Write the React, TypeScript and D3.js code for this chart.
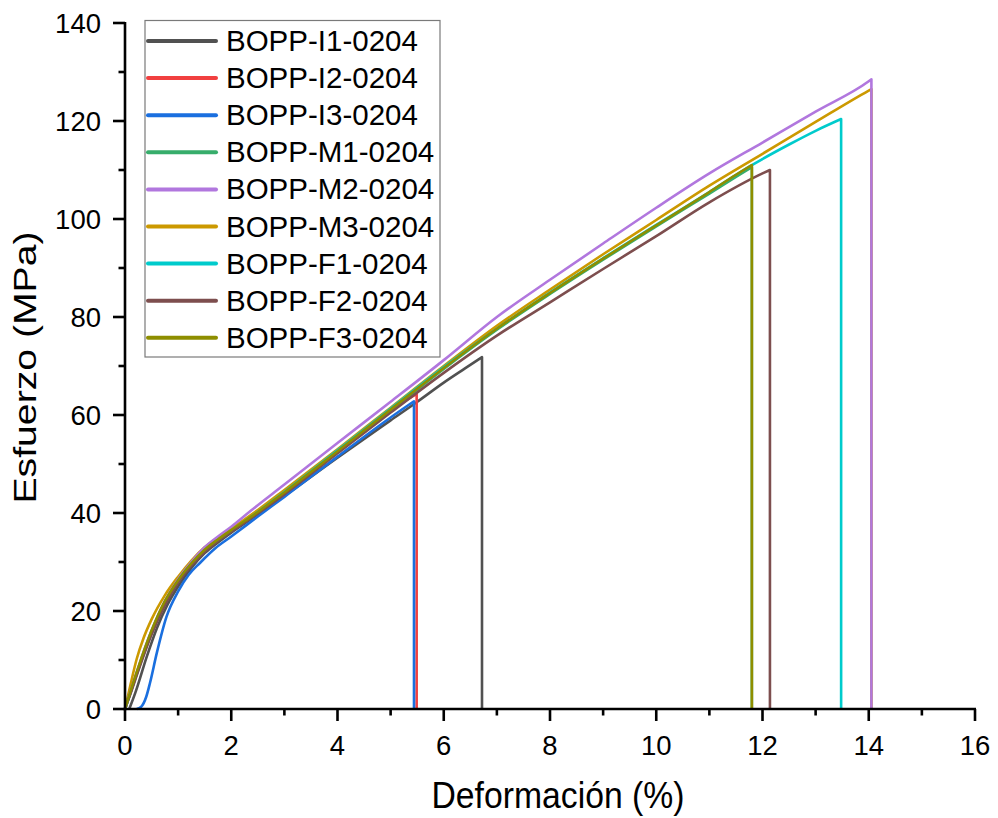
import React from "react";
import * as d3 from "d3";

// ---- data (strain %, stress MPa) ----
const seriesNames = [
  "BOPP-I1-0204",
  "BOPP-I2-0204",
  "BOPP-I3-0204",
  "BOPP-M1-0204",
  "BOPP-M2-0204",
  "BOPP-M3-0204",
  "BOPP-F1-0204",
  "BOPP-F2-0204",
  "BOPP-F3-0204",
];

const seriesColors = [
  "#515151", "#F14040", "#1A6FDF", "#37AD6B", "#B177DE",
  "#CC9900", "#00CBCC", "#7D4E4E", "#8E8E00",
];

const I1: [number, number][] = [
  [0.08, 0], [0.2, 3.5], [0.41, 10.7], [0.6, 16.5], [0.8, 21.3], [1, 25], [1.25, 28.8],
  [1.5, 31.8], [1.75, 34], [2, 36], [2.5, 39.7], [3, 43.5], [4, 51.3], [5, 58.9],
  [5.49, 62.6], [6, 66.6], [6.4, 69.5], [6.72, 71.8],
];
const I2: [number, number][] = [
  [0, 0], [0.1, 3.3], [0.25, 8.2], [0.5, 15.7], [0.75, 21.7], [1, 26.2], [1.25, 29.6],
  [1.5, 32.4], [1.75, 34.5], [2, 36.4], [2.5, 40.1], [3, 44.1], [4, 52.6], [5, 61], [5.49, 64.3],
];
const I3: [number, number][] = [
  [0.22, 0], [0.3, 0.4], [0.4, 2.5], [0.47, 5.3], [0.6, 11.5], [0.78, 18.8], [1, 24],
  [1.2, 27.4], [1.41, 29.8], [1.7, 32.8], [2, 35.2], [2.5, 39.3], [3, 43.3], [4, 51.5],
  [5, 59.5], [5.44, 62.8],
];
const M1: [number, number][] = [
  [0, 0], [0.1, 3.2], [0.25, 8], [0.5, 15.5], [0.75, 21.5], [1, 26], [1.25, 29.5],
  [1.5, 32.3], [1.75, 34.4], [2, 36.3], [2.5, 40], [3, 44], [4, 52.4], [5, 60.9],
  [6, 69.4], [7, 77.4], [8, 84.7], [9, 91.7], [10, 98.5], [11, 105.2], [11.5, 108.6], [11.8, 110.6],
];
const M2: [number, number][] = [
  [0, 0], [0.1, 3.5], [0.25, 8.5], [0.5, 16], [0.75, 22], [1, 26.5], [1.25, 30],
  [1.5, 33], [1.75, 35.2], [2, 37.2], [2.35, 40.3], [3, 45.8], [4, 54.3], [5, 62.7],
  [6, 71.2], [7, 80], [8, 87.6], [9, 95], [10, 102.3], [11, 109.3], [12, 115.6],
  [13, 121.9], [14, 128.1], [14.05, 128.5],
];
const M3: [number, number][] = [
  [0, 0], [0.1, 4.8], [0.22, 10.2], [0.35, 14.5], [0.5, 18.3], [0.75, 23.2], [1, 27],
  [1.25, 30.3], [1.5, 33], [1.75, 35], [2, 36.8], [2.5, 40.6], [3, 44.7], [4, 53],
  [5, 61.5], [6, 70], [7, 78.2], [8, 85.6], [9, 92.8], [10, 99.8], [11, 106.8],
  [12, 113.3], [13, 119.8], [14, 126.2], [14.05, 126.5],
];
const F1: [number, number][] = [
  [0, 0], [0.1, 3.2], [0.25, 8.2], [0.5, 15.8], [0.75, 21.8], [1, 26.2], [1.25, 29.6],
  [1.5, 32.4], [1.75, 34.5], [2, 36.4], [2.5, 40.2], [3, 44.3], [4, 52.8], [5, 61.3],
  [6, 69.8], [7, 77.6], [8, 85], [9, 92], [10, 98.8], [11, 105.5], [11.8, 111],
  [12.5, 115.2], [13, 118], [13.48, 120.4],
];
const F2: [number, number][] = [
  [0, 0], [0.1, 3], [0.25, 7.8], [0.5, 15.2], [0.75, 21.2], [1, 25.8], [1.25, 29.3],
  [1.5, 32.1], [1.75, 34.3], [2, 36.2], [2.5, 39.9], [3, 43.8], [4, 52.2], [5, 60.5],
  [6, 68.6], [7, 76.2], [8, 83], [9, 89.8], [10, 96.5], [11, 103.4], [12, 109.3], [12.14, 110],
];
const F3: [number, number][] = [
  [0, 0], [0.1, 3.5], [0.25, 8.5], [0.5, 16], [0.75, 22], [1, 26.3], [1.25, 29.7],
  [1.5, 32.5], [1.75, 34.6], [2, 36.5], [2.5, 40.2], [3, 44.2], [4, 52.6], [5, 61.1],
  [6, 69.6], [7, 77.6], [8, 84.9], [9, 91.9], [10, 98.7], [11, 105.5], [11.5, 109], [11.8, 111],
];

const seriesData = [I1, I2, I3, M1, M2, M3, F1, F2, F3];
// painting order (M2 over M3 so its break line shows)
const drawOrder = [0, 1, 2, 3, 5, 4, 6, 7, 8];

const xTicks = [0, 2, 4, 6, 8, 10, 12, 14, 16];
const xMinorTicks = [1, 3, 5, 7, 9, 11, 13, 15];
const yTicks = [0, 20, 40, 60, 80, 100, 120, 140];
const yMinorTicks = [10, 30, 50, 70, 90, 110, 130];

const xTitle = "Deformación (%)";
const yTitle = "Esfuerzo (MPa)";

// ---- layout ----
const W = 998;
const H = 818;
const left = 125;
const right = 975;
const top = 23;
const bottom = 709;
const FONT = "'Liberation Sans', Arial, Helvetica, sans-serif";

export default function App() {
  const x = d3.scaleLinear().domain([0, 16]).range([left, right]);
  const y = d3.scaleLinear().domain([0, 140]).range([bottom, top]);
  const line = d3
    .line<[number, number]>()
    .x((d) => x(d[0]))
    .y((d) => y(d[1]))
    .curve(d3.curveMonotoneX);

  const legendX = 145;
  const legendY = 20.5;
  const legendW = 295;
  const legendH = 336.5;
  const rowY0 = 41;
  const rowStep = 37.1;

  return (
    <svg
      width={W}
      height={H}
      style={{ position: "absolute", left: 0, top: 0, background: "#fff" }}
      fontFamily={FONT}
    >
      <rect x={0} y={0} width={W} height={H} fill="#fff" />

      {/* series */}
      {drawOrder.map((i) => {
        const pts = seriesData[i];
        const last = pts[pts.length - 1];
        const d = (line(pts) || "") + `L${x(last[0])},${y(0)}`;
        return (
          <path
            key={i}
            d={d}
            fill="none"
            stroke={seriesColors[i]}
            strokeWidth={2.6}
            strokeLinejoin="round"
          />
        );
      })}

      {/* axes */}
      <line x1={left} x2={left} y1={top - 1} y2={bottom + 1.3} stroke="#000" strokeWidth={2.6} />
      <line x1={left - 1.3} x2={right + 1} y1={bottom} y2={bottom} stroke="#000" strokeWidth={2.6} />

      {xTicks.map((t) => (
        <g key={"xt" + t}>
          <line x1={x(t)} x2={x(t)} y1={bottom} y2={bottom + 12} stroke="#000" strokeWidth={2.6} />
          <text x={x(t)} y={755} textAnchor="middle" fontSize={27.5} fill="#000">
            {t}
          </text>
        </g>
      ))}
      {xMinorTicks.map((t) => (
        <line key={"xm" + t} x1={x(t)} x2={x(t)} y1={bottom} y2={bottom + 6.5} stroke="#000" strokeWidth={2.6} />
      ))}

      {yTicks.map((t) => (
        <g key={"yt" + t}>
          <line x1={left - 12} x2={left} y1={y(t)} y2={y(t)} stroke="#000" strokeWidth={2.6} />
          <text x={101} y={y(t) + 9.8} textAnchor="end" fontSize={27.5} fill="#000">
            {t}
          </text>
        </g>
      ))}
      {yMinorTicks.map((t) => (
        <line key={"ym" + t} x1={left - 6.5} x2={left} y1={y(t)} y2={y(t)} stroke="#000" strokeWidth={2.6} />
      ))}

      {/* axis titles */}
      <text
        x={558}
        y={808}
        textAnchor="middle"
        fontSize={37}
        textLength={253}
        lengthAdjust="spacingAndGlyphs"
        fill="#000"
      >
        {xTitle}
      </text>
      <text
        transform={`translate(36,${367.5}) rotate(-90)`}
        textAnchor="middle"
        fontSize={31}
        textLength={272}
        lengthAdjust="spacingAndGlyphs"
        fill="#000"
      >
        {yTitle}
      </text>

      {/* legend */}
      <rect
        x={legendX}
        y={legendY}
        width={legendW}
        height={legendH}
        fill="#fff"
        stroke="#7a7a7a"
        strokeWidth={1.2}
      />
      {seriesNames.map((name, i) => {
        const ry = rowY0 + rowStep * i;
        return (
          <g key={name}>
            <line
              x1={148}
              x2={216}
              y1={ry}
              y2={ry}
              stroke={seriesColors[i]}
              strokeWidth={4}
              strokeLinecap="round"
            />
            <text x={226} y={ry + 10} fontSize={29.5} fill="#000">
              {name}
            </text>
          </g>
        );
      })}
    </svg>
  );
}
